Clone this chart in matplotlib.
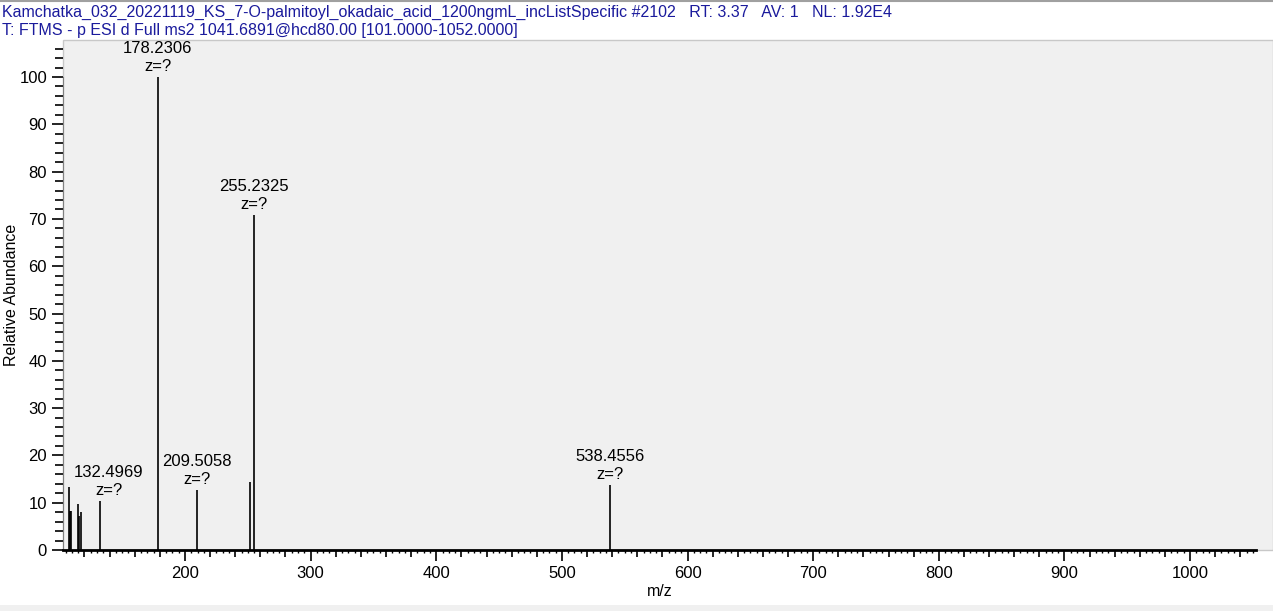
import matplotlib
matplotlib.use("Agg")
import matplotlib.pyplot as plt
from matplotlib.patches import Rectangle
from matplotlib.ticker import MultipleLocator

plt.rcParams["font.family"] = ["Liberation Sans", "DejaVu Sans"]

# peak list (m/z, relative abundance)
mz = [107.4, 108.2, 109.5, 114.7, 115.4, 117.1, 132.4969, 178.2306,
      209.5058, 252.0, 255.2325, 538.4556]
intensity = [13.4, 8.2, 8.2, 9.7, 7.2, 8.0, 10.4, 100.0,
             12.7, 14.4, 70.8, 13.7]
labelled = [132.4969, 178.2306, 209.5058, 255.2325, 538.4556]

header1 = ("Kamchatka_032_20221119_KS_7-O-palmitoyl_okadaic_acid_1200ngmL_incListSpecific #2102"
           "   RT: 3.37   AV: 1   NL: 1.92E4")
header2 = "T: FTMS - p ESI d Full ms2 1041.6891@hcd80.00 [101.0000-1052.0000]"

W, H = 1273, 611
fig = plt.figure(figsize=(W / 100, H / 100), dpi=100)

# grey plot panel and bottom strip
fig.patches.append(Rectangle((63 / W, (H - 550) / H), 1 - 63 / W, 510 / H,
                             transform=fig.transFigure, facecolor="#f0f0f0",
                             edgecolor="#c8c8c8", lw=1, zorder=-5))
fig.patches.append(Rectangle((0, 0), 1, 6 / H, transform=fig.transFigure,
                             facecolor="#f0f0f0", edgecolor="none", zorder=-5))
fig.add_artist(plt.Line2D([0, 1], [1 - 1 / H, 1 - 1 / H], color="#a0a0a0", lw=1.5))

hc = "#1a1a9c"
fig.text(2 / W, 1 - 12 / H, header1, fontsize=11.5, color=hc, va="center")
fig.text(2 / W, 1 - 31 / H, header2, fontsize=11.5, color=hc, va="center")

ax = fig.add_axes([63 / W, (H - 550) / H, (1256 - 63) / W, 510 / H])
ax.set_zorder(2)
ax.patch.set_alpha(0)
ax.set_xlim(102.9, 1052.5)
ax.set_ylim(0, 100 * 510 / 473)

ax.vlines(mz, 0, intensity, color="black", lw=1.2)
for m, v in zip(mz, intensity):
    if m in labelled:
        # labels near the left edge get pushed right, like the original software
        dx = 6 if m < 150 else 0
        ax.annotate(f"{m:.4f}\nz=?", (m, v), xytext=(dx, 2), textcoords="offset points",
                    ha="center", va="bottom", fontsize=12, linespacing=1.25)

for s in ["top", "right"]:
    ax.spines[s].set_visible(False)
ax.spines["left"].set_bounds(0, 100)
ax.spines["left"].set_color("#808080")

ax.set_yticks(range(0, 101, 10))
ax.yaxis.set_minor_locator(MultipleLocator(2))
ax.xaxis.set_major_locator(MultipleLocator(100))
ax.xaxis.set_minor_locator(MultipleLocator(20))
ax.tick_params(axis="both", which="major", length=8, width=1.2, labelsize=12)
ax.tick_params(axis="y", which="minor", length=6, width=1.2)
ax.tick_params(axis="x", which="minor", length=5, width=1.2)
ax.spines["bottom"].set_linewidth(2)

# tiny ticks every 5 m/z
tiny = [t for t in range(105, 1052, 5) if t % 20]
ax.vlines(tiny, -3 / 510, 0, color="black", lw=1,
          transform=ax.get_xaxis_transform(), clip_on=False)

ax.set_xlabel("m/z", fontsize=11.5, labelpad=2)
ax.set_ylabel("Relative Abundance", fontsize=11.5, labelpad=0)

fig.savefig("out.png", dpi=100)
